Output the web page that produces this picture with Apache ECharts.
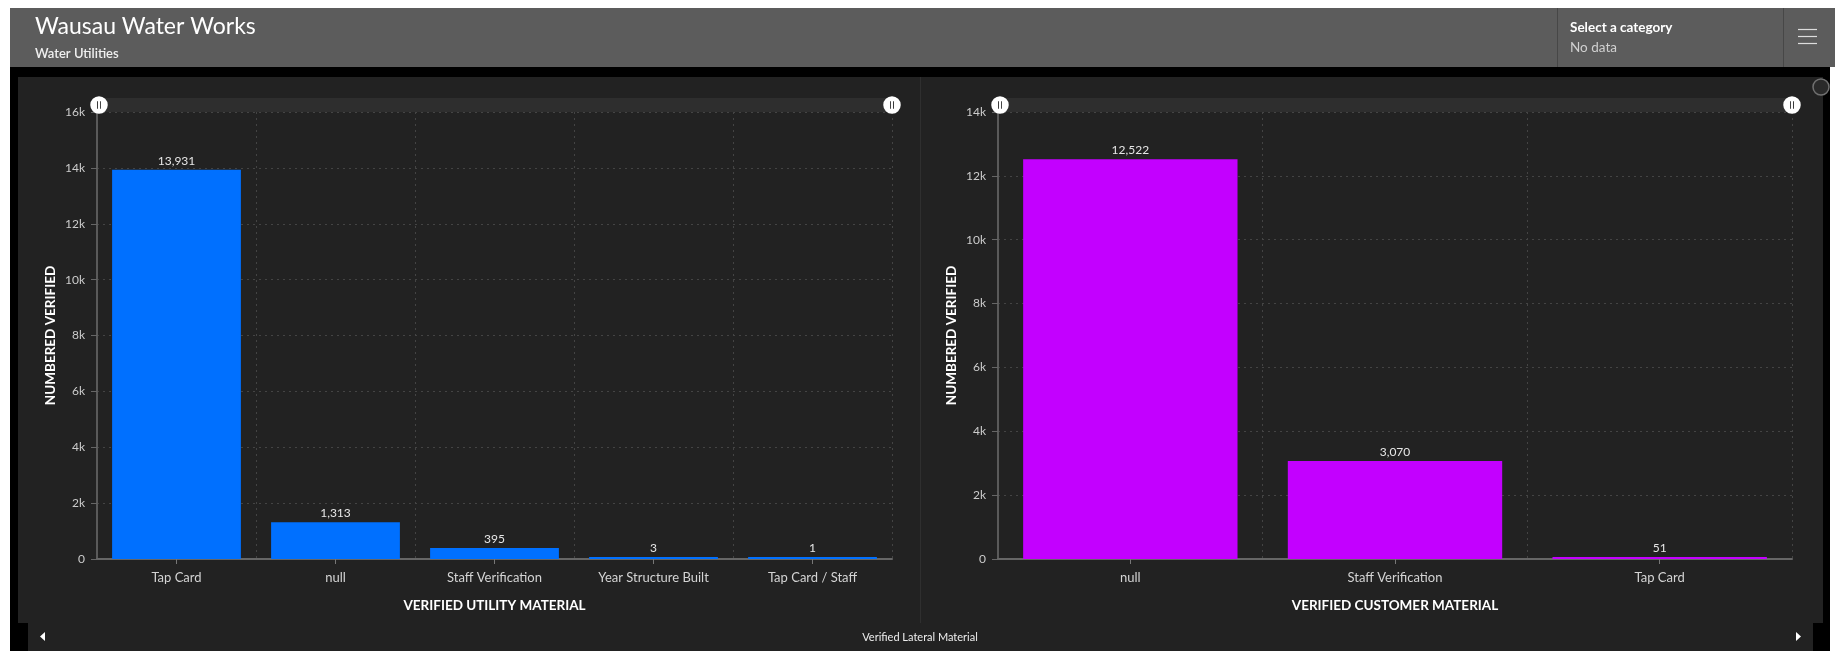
<!DOCTYPE html>
<html>
<head>
<meta charset="utf-8">
<script src="https://cdn.jsdelivr.net/npm/echarts@6/dist/echarts.min.js"></script>
<style>
html,body{margin:0;padding:0;background:#fff;}
#c{width:1835px;height:651px;}
</style>
</head>
<body>
<div id="c"></div>
<script>
// ---- data ----
var leftCategories = ['Tap Card', 'null', 'Staff Verification', 'Year Structure Built', 'Tap Card / Staff'];
var leftValues = [13931, 1313, 395, 3, 1];
var rightCategories = ['null', 'Staff Verification', 'Tap Card'];
var rightValues = [12522, 3070, 51];
var leftYMax = 16000;
var rightYMax = 14000;
var yInterval = 2000;
var titleText = 'Wausau Water Works';
var subtitleText = 'Water Utilities';
var leftXName = 'VERIFIED UTILITY MATERIAL';
var rightXName = 'VERIFIED CUSTOMER MATERIAL';
var yName = 'NUMBERED VERIFIED';
var footerText = 'Verified Lateral Material';

var FONT = 'Lato, "Open Sans", sans-serif';
var chart = echarts.init(document.getElementById('c'), null, {renderer: 'canvas'});

function fmtK(v) { return v === 0 ? '0' : (v / 1000) + 'k'; }
function fmtNum(p) { return Number(p.value).toLocaleString('en-US'); }

var handlePath = 'path://M50,0A50,50,0,1,1,50,100A50,50,0,1,1,50,0Z M39,28L39,72L44,72L44,28Z M56,28L56,72L61,72L61,28Z';

function xAxisCfg(idx, cats, name) {
  return {
    type: 'category', gridIndex: idx, data: cats,
    axisLine: {show: true, lineStyle: {color: '#666', width: 2}},
    axisTick: {show: true, alignWithLabel: true, length: 5, lineStyle: {color: '#777'}},
    axisLabel: {color: '#d4d4d4', fontSize: 13, fontFamily: FONT, margin: 12, interval: 0},
    splitLine: {show: true, interval: 0, lineStyle: {color: '#444', type: [2, 4], width: 1}},
    name: name, nameLocation: 'middle', nameGap: 40,
    nameTextStyle: {color: '#fff', fontSize: 13.5, fontWeight: 'bold', fontFamily: FONT}
  };
}
function yAxisCfg(idx, max) {
  return {
    type: 'value', gridIndex: idx, min: 0, max: max, interval: yInterval,
    axisLine: {show: true, lineStyle: {color: '#5a5a5a', width: 2}},
    axisTick: {show: true, length: 6, lineStyle: {color: '#666'}},
    axisLabel: {color: '#ccc', fontSize: 12, fontFamily: FONT, margin: 12, formatter: fmtK},
    splitLine: {show: true, lineStyle: {color: '#444', type: [2, 4], width: 1}},
    name: yName, nameLocation: 'middle', nameGap: 39,
    nameTextStyle: {color: '#fff', fontSize: 13.5, fontWeight: 'bold', fontFamily: FONT}
  };
}
function sliderCfg(idx, left, right) {
  return {
    type: 'slider', xAxisIndex: idx, start: 0, end: 100,
    top: 98, height: 14, left: left, right: right,
    backgroundColor: '#2e2e2e', borderColor: 'transparent', fillerColor: 'rgba(0,0,0,0)',
    showDetail: false, showDataShadow: false, brushSelect: false, moveHandleSize: 0,
    handleIcon: handlePath, handleSize: '125%',
    handleStyle: {color: '#fff', borderColor: '#fff', borderWidth: 0},
    dataBackground: {lineStyle: {opacity: 0}, areaStyle: {opacity: 0}},
    selectedDataBackground: {lineStyle: {opacity: 0}, areaStyle: {opacity: 0}},
    emphasis: {handleStyle: {color: '#fff', borderColor: '#fff'}},
    zoomLock: false
  };
}
function barCfg(idx, vals, color) {
  return {
    type: 'bar', xAxisIndex: idx, yAxisIndex: idx, data: vals,
    barCategoryGap: '19%', barMinHeight: 2,
    itemStyle: {color: color},
    label: {show: true, position: 'top', distance: 3, color: '#e6e6e6', fontSize: 12, fontFamily: FONT, formatter: fmtNum},
    silent: true
  };
}

var graphics = [
  {type: 'rect', shape: {x: 10, y: 8, width: 1825, height: 59}, style: {fill: '#5c5c5c'}, silent: true, z: -10},
  {type: 'line', shape: {x1: 1557.5, y1: 8, x2: 1557.5, y2: 67}, style: {stroke: '#474747', lineWidth: 1}, silent: true, z: -9},
  {type: 'line', shape: {x1: 1783.5, y1: 8, x2: 1783.5, y2: 67}, style: {stroke: '#474747', lineWidth: 1}, silent: true, z: -9},
  {type: 'rect', shape: {x: 10, y: 67, width: 1820, height: 584}, style: {fill: '#000'}, silent: true, z: -10},
  {type: 'rect', shape: {x: 18, y: 77, width: 1805, height: 546}, style: {fill: '#222'}, silent: true, z: -9},
  {type: 'rect', shape: {x: 28, y: 622, width: 1785, height: 29}, style: {fill: '#222'}, silent: true, z: -9},
  {type: 'line', shape: {x1: 920.5, y1: 77, x2: 920.5, y2: 623}, style: {stroke: '#2f2f2f', lineWidth: 1}, silent: true, z: -8},
  {type: 'text', x: 35, y: 27, style: {text: titleText, fill: '#fff', font: '400 23px ' + FONT, verticalAlign: 'middle'}, silent: true},
  {type: 'text', x: 35, y: 54, style: {text: subtitleText, fill: '#f0f0f0', font: '600 13px ' + FONT, verticalAlign: 'middle'}, silent: true},
  {type: 'text', x: 1570, y: 28, style: {text: 'Select a category', fill: '#fff', font: '700 13.5px ' + FONT, verticalAlign: 'middle'}, silent: true},
  {type: 'text', x: 1570, y: 48, style: {text: 'No data', fill: '#d0d0d0', font: '400 13.5px ' + FONT, verticalAlign: 'middle'}, silent: true},
  {type: 'line', shape: {x1: 1798, y1: 29.5, x2: 1817, y2: 29.5}, style: {stroke: '#ddd', lineWidth: 1.2}, silent: true},
  {type: 'line', shape: {x1: 1798, y1: 36.5, x2: 1817, y2: 36.5}, style: {stroke: '#ddd', lineWidth: 1.2}, silent: true},
  {type: 'line', shape: {x1: 1798, y1: 43.5, x2: 1817, y2: 43.5}, style: {stroke: '#ddd', lineWidth: 1.2}, silent: true},
  {type: 'circle', shape: {cx: 1821, cy: 87, r: 8}, style: {fill: '#2a2a2a', stroke: '#707070', lineWidth: 1.5}, silent: true},
  {type: 'polygon', shape: {points: [[45, 632], [45, 641], [40, 636.5]]}, style: {fill: '#fff'}, silent: true},
  {type: 'polygon', shape: {points: [[1796, 632], [1796, 641], [1801, 636.5]]}, style: {fill: '#fff'}, silent: true},
  {type: 'text', x: 920, y: 637, style: {text: footerText, fill: '#eee', font: '400 11px ' + FONT, align: 'center', verticalAlign: 'middle'}, silent: true}
];

chart.setOption({
  backgroundColor: '#fff',
  animation: false,
  graphic: graphics,
  grid: [
    {left: 97, right: 943, top: 112, bottom: 92, containLabel: false},
    {left: 998, right: 43, top: 112, bottom: 92, containLabel: false}
  ],
  xAxis: [xAxisCfg(0, leftCategories, leftXName), xAxisCfg(1, rightCategories, rightXName)],
  yAxis: [yAxisCfg(0, leftYMax), yAxisCfg(1, rightYMax)],
  dataZoom: [sliderCfg(0, 97, 943), sliderCfg(1, 998, 43)],
  series: [barCfg(0, leftValues, '#0070ff'), barCfg(1, rightValues, '#c300ff')]
});
</script>
</body>
</html>
